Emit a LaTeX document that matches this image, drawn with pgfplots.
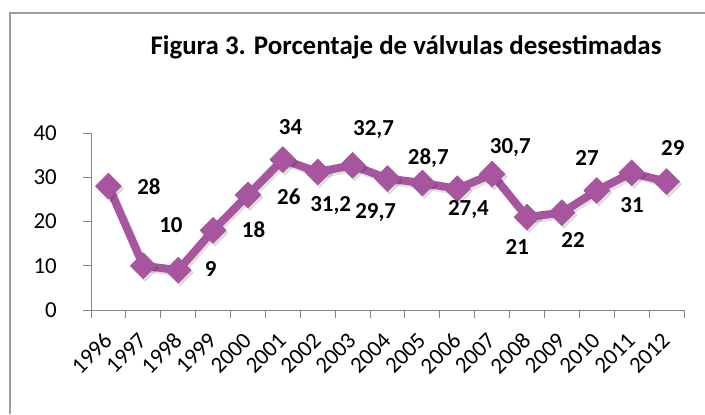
\documentclass[border=0pt]{standalone}
\usepackage{fontspec}
\setmainfont{Carlito}
\usepackage{pgfplots}
\pgfplotsset{compat=1.18}
\definecolor{lin}{RGB}{168,85,160}
\definecolor{axg}{RGB}{134,134,134}
\begin{document}
\begin{tikzpicture}[x=1bp,y=1bp]
\useasboundingbox (0,0) rectangle (705,414);
\draw[axg!80, line width=1.5bp] (10,0) -- (10,401) -- (705,401);
\node[font=\bfseries\fontsize{27}{31}\selectfont] at (406,367) {Figura 3. Porcentaje de válvulas desestimadas};
\begin{axis}[
  at={(91bp,104bp)}, anchor=south west,
  scale only axis, width=593bp, height=177bp,
  xmin=-0.5, xmax=16.5, ymin=0, ymax=40,
  axis x line*=bottom, axis y line*=left,
  axis line style={axg, line width=1bp, -},
  clip=false,
  ytick={0,10,20,30,40},
  xtick={0,...,16},
  xticklabels={1996,1997,1998,1999,2000,2001,2002,2003,2004,2005,2006,2007,2008,2009,2010,2011,2012},
  minor xtick={-0.5,0.5,...,16.5},
  major x tick style={draw=none},
  minor x tick style={axg, line width=1bp},
  y tick style={axg, line width=1bp},
  tick align=outside,
  major tick length=8bp, minor tick length=8bp,
  /pgf/number format/assume math mode=true,
  tick label style={font=\fontsize{23}{26}\selectfont, black, inner sep=0pt},
  yticklabel style={anchor=east, xshift=-26bp},
  xticklabel style={xshift=-6bp, yshift=-13bp, rotate=45, anchor=north east},
]
\addplot[black, opacity=0.12, line width=8bp, line join=round, mark=square*, mark size=9.2bp,
  mark options={rotate=45, line width=0.5bp}, xshift=2bp, yshift=-2.5bp, forget plot]
  coordinates {(0,28) (1,10) (2,9) (3,18) (4,26) (5,34) (6,31.2) (7,32.7) (8,29.7) (9,28.7) (10,27.4) (11,30.7) (12,21) (13,22) (14,27) (15,31) (16,29)};
\addplot[lin, line width=8bp, line join=round, mark=square*, mark size=9.2bp,
  mark options={rotate=45, line width=0.5bp, fill=lin, draw=lin}]
  coordinates {(0,28) (1,10) (2,9) (3,18) (4,26) (5,34) (6,31.2) (7,32.7) (8,29.7) (9,28.7) (10,27.4) (11,30.7) (12,21) (13,22) (14,27) (15,31) (16,29)};
\addplot[draw=none, mark=none, nodes near coords, point meta=explicit symbolic,
  nodes near coords align={center},
  every node near coord/.append style={anchor=center, font=\bfseries\fontsize{23}{26}\selectfont, black}]
  coordinates {(1.16,27.8) [28] (1.79,19.2) [10] (2.93,9.3) [9] (4.16,18.1) [18] (5.17,25.5) [26] (5.22,41.4) [34]
  (6.37,23.7) [{31,2}] (7.60,40.7) [{32,7}] (7.66,22.1) [{29,7}] (9.17,34.4) [{28,7}] (10.32,22.6) [{27,4}]
  (11.52,36.8) [{30,7}] (11.72,14.2) [21] (13.32,15.8) [22] (13.72,34.4) [27] (15.01,23.7) [31] (16.18,36.6) [29]};
\end{axis}
\end{tikzpicture}
\end{document}
